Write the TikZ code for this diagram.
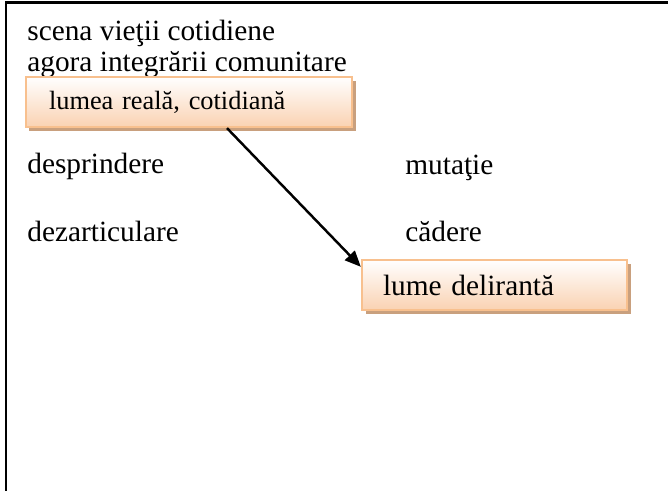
\documentclass[tikz,border=0pt]{standalone}
\usepackage{fontspec}
\setmainfont{Liberation Serif}
\usepackage{tikz}
\usetikzlibrary{positioning, shadows, calc, arrows.meta}
\definecolor{peachedge}{HTML}{F8C08E}
\definecolor{peachfill}{HTML}{FAD2B2}
\definecolor{shadowtan}{HTML}{C9A07E}

\begin{document}
\begin{tikzpicture}[
  font=\fontsize{16.7}{19}\selectfont,
  lbl/.style={inner sep=0pt, anchor=base west},
  world/.style={rectangle, draw=peachedge, line width=1.3pt, top color=white, bottom color=peachfill,
    general shadow={fill=shadowtan, shadow xshift=0.07cm, shadow yshift=-0.08cm},
    minimum height=1cm, align=left},
  msg/.style={-{Triangle[length=0.32cm,width=0.27cm]}, line width=1.4pt},
]
\useasboundingbox (0,0) rectangle (13.36,-9.82);
\draw[line width=1.5pt] (0.12,-9.82) -- (0.12,-0.05) -- (13.36,-0.05);

\node[lbl] (scena) at (0.54,-0.82) {scena vieţii cotidiene};
\node[lbl] (agora) at (0.54,-1.44) {agora integrării comunitare};

\node[world, font=\fontsize{15}{18}\selectfont, inner xsep=0.46cm, text width=5.6cm] (real) at (3.78,-2.04) {lumea reală, cotidiană};

\node[lbl] (despr) at (0.54,-3.48) {desprindere};
\node[lbl] (mutatie) at (8.10,-3.50) {mutaţie};
\node[lbl] (dezart) at (0.54,-4.84) {dezarticulare};
\node[lbl] (cadere) at (8.10,-4.84) {cădere};

\node[world, inner xsep=0.42cm, text width=4.46cm] (delir) at (9.89,-5.70) {lume delirantă};

\draw[msg] ([xshift=0.76cm]real.south) -- ([yshift=-0.16cm]delir.north west);
\end{tikzpicture}
\end{document}
